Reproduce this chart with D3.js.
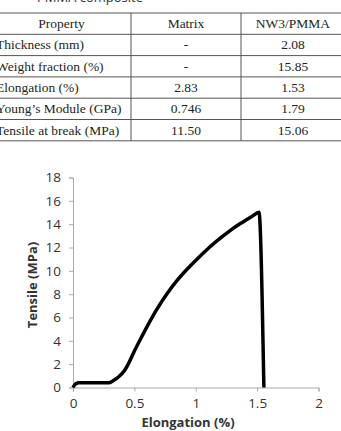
<!DOCTYPE html>
<html>
<head>
<meta charset="utf-8">
<script src="https://cdn.jsdelivr.net/npm/d3@7"></script>
<style>
  body { margin: 0; background: #fff; }
  svg { display: block; }
</style>
</head>
<body>
<script>
// table data
var headers = ['Property', 'Matrix', 'NW3/PMMA'];
var properties = ['Thickness (mm)', 'Weight fraction (%)', 'Elongation (%)', 'Young\u2019s Module (GPa)', 'Tensile at break (MPa)'];
var matrixValues = ['-', '-', '2.83', '0.746', '11.50'];
var compositeValues = ['2.08', '15.85', '1.53', '1.79', '15.06'];

// stress-strain curve
var elongation = [0, 0.02, 0.05, 0.1, 0.2, 0.29, 0.33, 0.37, 0.42, 0.45, 0.49, 0.545, 0.6, 0.68, 0.77, 0.85, 0.935, 1.02, 1.11, 1.2, 1.28, 1.36, 1.41, 1.46, 1.515, 1.555];
var tensile = [0, 0.3, 0.4, 0.4, 0.4, 0.4, 0.6, 0.9, 1.45, 2.0, 2.9, 4.05, 5.15, 6.65, 8.1, 9.2, 10.2, 11.1, 12.0, 12.8, 13.45, 14.03, 14.36, 14.68, 15.03, 0];
var xTicks = [0, 0.5, 1, 1.5, 2];
var yTicks = [0, 2, 4, 6, 8, 10, 12, 14, 16, 18];

var width = 341, height = 431;
var svg = d3.select('body').append('svg')
  .attr('width', width)
  .attr('height', height);

// --- table ---
var colEdges = [-8, 131, 241, 345];
var tableTop = 13, rowH = 21.3;
var rows = [headers].concat(properties.map(function(p, i) {
  return [p, matrixValues[i], compositeValues[i]];
}));
var serif = '"Liberation Serif", "DejaVu Serif", serif';

// caption (cut off at top)
svg.append('text')
  .attr('x', 90).attr('y', 2)
  .attr('text-anchor', 'middle')
  .style('font-family', '"Open Sans", sans-serif')
  .style('font-size', '13px')
  .style('fill', '#333')
  .text('PMMA composite');

var table = svg.append('g');
table.selectAll('line.h')
  .data(d3.range(rows.length + 1))
  .enter().append('line')
  .attr('x1', 0).attr('x2', width)
  .attr('y1', function(d) { return tableTop + d * rowH; })
  .attr('y2', function(d) { return tableTop + d * rowH; })
  .attr('stroke', '#555').attr('stroke-width', 1);
table.selectAll('line.v')
  .data([colEdges[1], colEdges[2]])
  .enter().append('line')
  .attr('x1', function(d) { return d; }).attr('x2', function(d) { return d; })
  .attr('y1', tableTop).attr('y2', tableTop + rows.length * rowH)
  .attr('stroke', '#555').attr('stroke-width', 1);

rows.forEach(function(r, ri) {
  var cy = tableTop + ri * rowH + rowH / 2;
  r.forEach(function(t, ci) {
    var left = ri > 0 && ci === 0;
    table.append('text')
      .attr('x', left ? -4 : (colEdges[ci] + colEdges[ci + 1]) / 2)
      .attr('y', cy + 4.5)
      .attr('text-anchor', left ? 'start' : 'middle')
      .style('font-family', serif)
      .style('font-size', '13.5px')
      .style('fill', '#231f20')
      .text(t);
  });
});

// --- chart ---
var x = d3.scaleLinear().domain([0, 2]).range([73, 318.5]);
var y = d3.scaleLinear().domain([0, 18]).range([387.5, 177.5]);
var sans = '"Open Sans", "Liberation Sans", sans-serif';

var xAxis = svg.append('g')
  .attr('transform', 'translate(0,' + y(0) + ')')
  .call(d3.axisBottom(x).tickValues(xTicks).tickSize(4).tickPadding(7)
    .tickFormat(function(d) { return d; }));
var yAxis = svg.append('g')
  .attr('transform', 'translate(' + x(0) + ',0)')
  .call(d3.axisLeft(y).tickValues(yTicks).tickSize(4).tickPadding(8));

[xAxis, yAxis].forEach(function(a) {
  a.select('.domain').attr('stroke', '#aaa').attr('stroke-width', 1);
  a.selectAll('.tick line').attr('stroke', '#aaa');
  a.selectAll('.tick text')
    .style('font-family', sans)
    .style('font-size', '13.5px')
    .style('fill', '#333');
});

var line = d3.line()
  .x(function(d, i) { return x(elongation[i]); })
  .y(function(d, i) { return y(tensile[i]); })
  .curve(d3.curveMonotoneX);

svg.append('path')
  .datum(tensile)
  .attr('d', line)
  .attr('fill', 'none')
  .attr('stroke', '#000')
  .attr('stroke-width', 3.5)
  .attr('stroke-linejoin', 'round');

svg.append('text')
  .attr('x', 188).attr('y', 427)
  .attr('text-anchor', 'middle')
  .style('font-family', sans)
  .style('font-size', '13px')
  .style('font-weight', 'bold')
  .style('fill', '#333')
  .text('Elongation (%)');

svg.append('text')
  .attr('transform', 'translate(37,285) rotate(-90)')
  .attr('text-anchor', 'middle')
  .style('font-family', sans)
  .style('font-size', '13px')
  .style('font-weight', 'bold')
  .style('fill', '#333')
  .text('Tensile (MPa)');
</script>
</body>
</html>
